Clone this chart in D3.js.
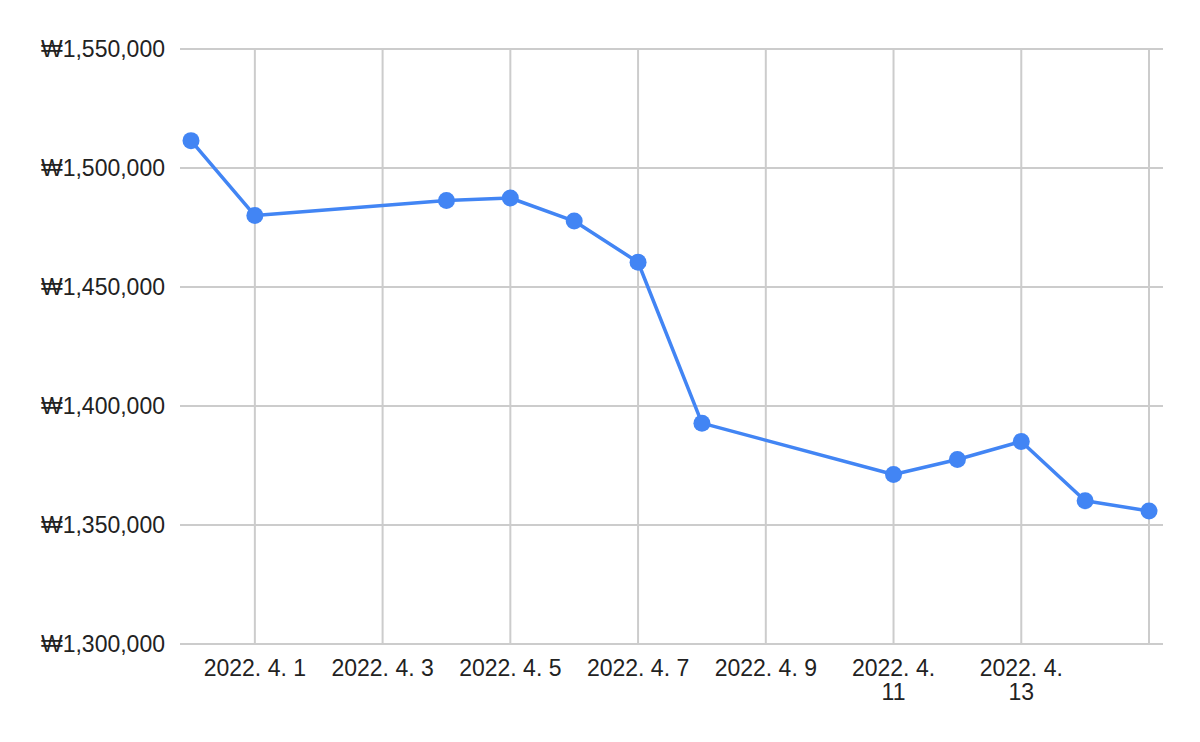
<!DOCTYPE html>
<html>
<head>
<meta charset="utf-8">
<script src="https://cdn.jsdelivr.net/npm/d3@7"></script>
<style>
  html, body { margin: 0; padding: 0; background: #fff; }
  text { font-family: "Liberation Sans", Arial, sans-serif; fill: #222; }
</style>
</head>
<body>
<svg id="chart" width="1200" height="742"></svg>
<script>
const dates = ["2022-03-31","2022-04-01","2022-04-04","2022-04-05","2022-04-06","2022-04-07","2022-04-08","2022-04-11","2022-04-12","2022-04-13","2022-04-14","2022-04-15"];
const prices = [1511500,1480000,1486300,1487400,1477700,1460400,1392800,1371200,1377500,1385100,1360200,1355900];
const yTicks = [1300000,1350000,1400000,1450000,1500000,1550000];
const xTickDates = ["2022-04-01","2022-04-03","2022-04-05","2022-04-07","2022-04-09","2022-04-11","2022-04-13","2022-04-15"];
const xTickLabels = ["2022. 4. 1","2022. 4. 3","2022. 4. 5","2022. 4. 7","2022. 4. 9","2022. 4. 11","2022. 4. 13",""];

const parse = d3.timeParse("%Y-%m-%d");
const svg = d3.select("#chart");
const plot = {left: 180, right: 1163, top: 49, bottom: 644};

const x = d3.scaleTime()
  .domain([parse("2022-03-31"), parse("2022-04-15")])
  .range([191, 1149]);
const y = d3.scaleLinear()
  .domain([1300000, 1550000])
  .range([plot.bottom, plot.top]);

// horizontal grid
svg.append("g").selectAll("line").data(yTicks).join("line")
  .attr("x1", plot.left).attr("x2", plot.right)
  .attr("y1", d => y(d)).attr("y2", d => y(d))
  .attr("stroke", "#cccccc").attr("stroke-width", 2);

// vertical grid
svg.append("g").selectAll("line").data(xTickDates).join("line")
  .attr("x1", d => x(parse(d))).attr("x2", d => x(parse(d)))
  .attr("y1", plot.top).attr("y2", plot.bottom)
  .attr("stroke", "#cccccc").attr("stroke-width", 2);

// y labels
const fmt = d3.format(",");
svg.append("g").selectAll("text").data(yTicks).join("text")
  .attr("x", 165).attr("y", d => y(d))
  .attr("dy", "0.35em")
  .attr("text-anchor", "end")
  .attr("font-size", 23)
  .text(d => "₩" + fmt(d));

// x labels
const xl = svg.append("g");
xTickDates.forEach((d, i) => {
  const lab = xTickLabels[i];
  if (!lab) return;
  const lines = lab.length > 10 ? [lab.slice(0, lab.lastIndexOf(" ")), lab.slice(lab.lastIndexOf(" ") + 1)] : [lab];
  const t = xl.append("text")
    .attr("x", x(parse(d))).attr("y", 676)
    .attr("text-anchor", "middle").attr("font-size", 23);
  lines.forEach((ln, j) => {
    t.append("tspan").attr("x", x(parse(d))).attr("dy", j === 0 ? 0 : 23.5).text(ln);
  });
});

const data = dates.map((d, i) => ({date: parse(d), v: prices[i]}));

svg.append("path").datum(data)
  .attr("fill", "none").attr("stroke", "#4285f4").attr("stroke-width", 3.5)
  .attr("stroke-linejoin", "round")
  .attr("d", d3.line().x(d => x(d.date)).y(d => y(d.v)));

svg.append("g").selectAll("circle").data(data).join("circle")
  .attr("cx", d => x(d.date)).attr("cy", d => y(d.v))
  .attr("r", 8.5).attr("fill", "#4285f4");
</script>
</body>
</html>
